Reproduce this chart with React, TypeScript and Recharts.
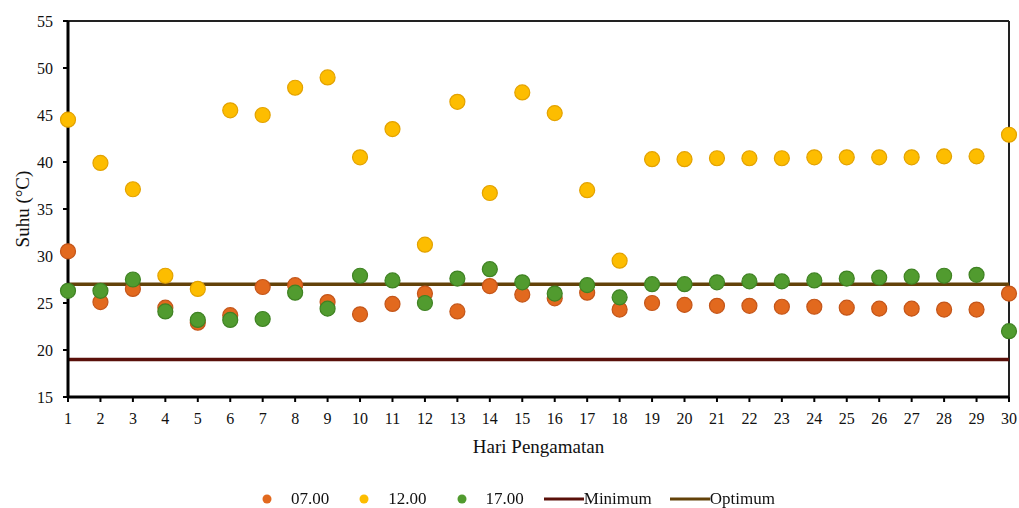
import React from "react";
import {
  ComposedChart,
  Scatter,
  Line,
  XAxis,
  YAxis,
  Legend,
  Label,
  ReferenceLine,
} from "recharts";

// hari pengamatan 1..30
const days = [
  1, 2, 3, 4, 5, 6, 7, 8, 9, 10, 11, 12, 13, 14, 15, 16, 17, 18, 19, 20, 21,
  22, 23, 24, 25, 26, 27, 28, 29, 30,
];

// suhu (°C) per jam pengamatan
const temp0700 = [
  30.5, 25.1, 26.5, 24.5, 22.9, 23.7, 26.7, 26.9, 25.1, 23.8, 24.9, 26.0, 24.1,
  26.8, 25.9, 25.5, 26.1, 24.3, 25.0, 24.8, 24.7, 24.7, 24.6, 24.6, 24.5, 24.4,
  24.4, 24.3, 24.3, 26.0,
];
const temp1200 = [
  44.5, 39.9, 37.1, 27.9, 26.5, 45.5, 45.0, 47.9, 49.0, 40.5, 43.5, 31.2, 46.4,
  36.7, 47.4, 45.2, 37.0, 29.5, 40.3, 40.3, 40.4, 40.4, 40.4, 40.5, 40.5, 40.5,
  40.5, 40.6, 40.6, 42.9,
];
const temp1700 = [
  26.3, 26.3, 27.5, 24.1, 23.2, 23.2, 23.3, 26.1, 24.4, 27.9, 27.4, 25.0, 27.6,
  28.6, 27.2, 26.0, 26.9, 25.6, 27.0, 27.0, 27.2, 27.3, 27.3, 27.4, 27.6, 27.7,
  27.8, 27.9, 28.0, 22.0,
];

const minimumValue = 19;
const optimumValue = 27;

const yTicks = [15, 20, 25, 30, 35, 40, 45, 50, 55];

const FONT = "'Liberation Serif', 'Times New Roman', serif";

const seriesList = [
  { name: "07.00", values: temp0700, fill: "#E2691E", stroke: "#C4561A" },
  { name: "12.00", values: temp1200, fill: "#FDBD00", stroke: "#E3A200" },
  { name: "17.00", values: temp1700, fill: "#519B2F", stroke: "#3F8223" },
];

const lineList = [
  { name: "Minimum", value: minimumValue, color: "#5A100A" },
  { name: "Optimum", value: optimumValue, color: "#634209" },
];

const toPoints = (values: number[]) =>
  days.map((d, i) => ({ day: d, value: values[i] }));

const dotShape = (fill: string, stroke: string) => (props: any) =>
  (
    <circle
      cx={props.cx}
      cy={props.cy}
      r={7.5}
      fill={fill}
      stroke={stroke}
      strokeWidth={1.2}
    />
  );

const renderLegend = () => (
  <div
    style={{
      display: "flex",
      justifyContent: "center",
      alignItems: "center",
      height: 18,
      paddingLeft: 28,
      fontFamily: FONT,
      fontSize: 17,
      color: "#111",
    }}
  >
    {seriesList.map((s, i) => (
      <span
        key={s.name}
        style={{
          display: "flex",
          alignItems: "center",
          marginRight: i === seriesList.length - 1 ? 20 : 30,
        }}
      >
        <svg width={10} height={10} style={{ marginRight: 19 }}>
          <circle cx={5} cy={5} r={4.5} fill={s.fill} />
        </svg>
        {s.name}
      </span>
    ))}
    {lineList.map((l, i) => (
      <span
        key={l.name}
        style={{
          display: "flex",
          alignItems: "center",
          marginRight: i === lineList.length - 1 ? 0 : 18,
        }}
      >
        <svg width={40} height={6}>
          <line x1={0} y1={3} x2={40} y2={3} stroke={l.color} strokeWidth={3} />
        </svg>
        {l.name}
      </span>
    ))}
  </div>
);

const App = () => {
  return (
    <div style={{ position: "fixed", left: 0, top: 0, background: "#fff" }}>
      <ComposedChart
        width={1019}
        height={508}
        margin={{ top: 21, right: 10, left: 0, bottom: 0 }}
      >
        <XAxis
          dataKey="day"
          type="number"
          domain={[1, 30]}
          ticks={days}
          interval={0}
          height={93}
          axisLine={{ stroke: "#000", strokeWidth: 3 }}
          tickLine={{ stroke: "#000", strokeWidth: 2 }}
          tickSize={5}
          tickMargin={11}
          tick={{ fill: "#111", fontSize: 16, fontFamily: FONT }}
        >
          <Label
            content={(p: any) => {
              const vb = p.viewBox || {};
              return (
                <text
                  x={vb.x + vb.width / 2}
                  y={vb.y + 49}
                  textAnchor="middle"
                  dominantBaseline="central"
                  fontFamily={FONT}
                  fontSize={19}
                  fill="#111"
                >
                  Hari Pengamatan
                </text>
              );
            }}
          />
        </XAxis>
        <YAxis
          dataKey="value"
          type="number"
          domain={[15, 55]}
          ticks={yTicks}
          interval={0}
          width={68}
          axisLine={{ stroke: "#000", strokeWidth: 3 }}
          tickLine={{ stroke: "#000", strokeWidth: 2 }}
          tickSize={5}
          tickMargin={10}
          tick={{ fill: "#111", fontSize: 16, fontFamily: FONT }}
        >
          <Label
            content={(p: any) => {
              const vb = p.viewBox || {};
              const cx = 22;
              const cy = vb.y + vb.height / 2;
              return (
                <text
                  x={cx}
                  y={cy}
                  transform={`rotate(-90 ${cx} ${cy})`}
                  textAnchor="middle"
                  dominantBaseline="central"
                  fontFamily={FONT}
                  fontSize={19}
                  fill="#111"
                >
                  Suhu (°C)
                </text>
              );
            }}
          />
        </YAxis>
        <ReferenceLine y={55} stroke="#222" strokeWidth={2} />
        <ReferenceLine x={30} stroke="#222" strokeWidth={2} />
        {lineList.map((l) => (
          <Line
            key={l.name}
            name={l.name}
            data={[
              { day: days[0], value: l.value },
              { day: days[days.length - 1], value: l.value },
            ]}
            dataKey="value"
            stroke={l.color}
            strokeWidth={3.5}
            dot={false}
            activeDot={false}
            isAnimationActive={false}
          />
        ))}
        {seriesList.map((s) => (
          <Scatter
            key={s.name}
            name={s.name}
            data={toPoints(s.values)}
            dataKey="value"
            fill={s.fill}
            shape={dotShape(s.fill, s.stroke)}
            isAnimationActive={false}
          />
        ))}
        <Legend
          verticalAlign="bottom"
          height={18}
          content={renderLegend}
        />
      </ComposedChart>
    </div>
  );
};

export default App;
